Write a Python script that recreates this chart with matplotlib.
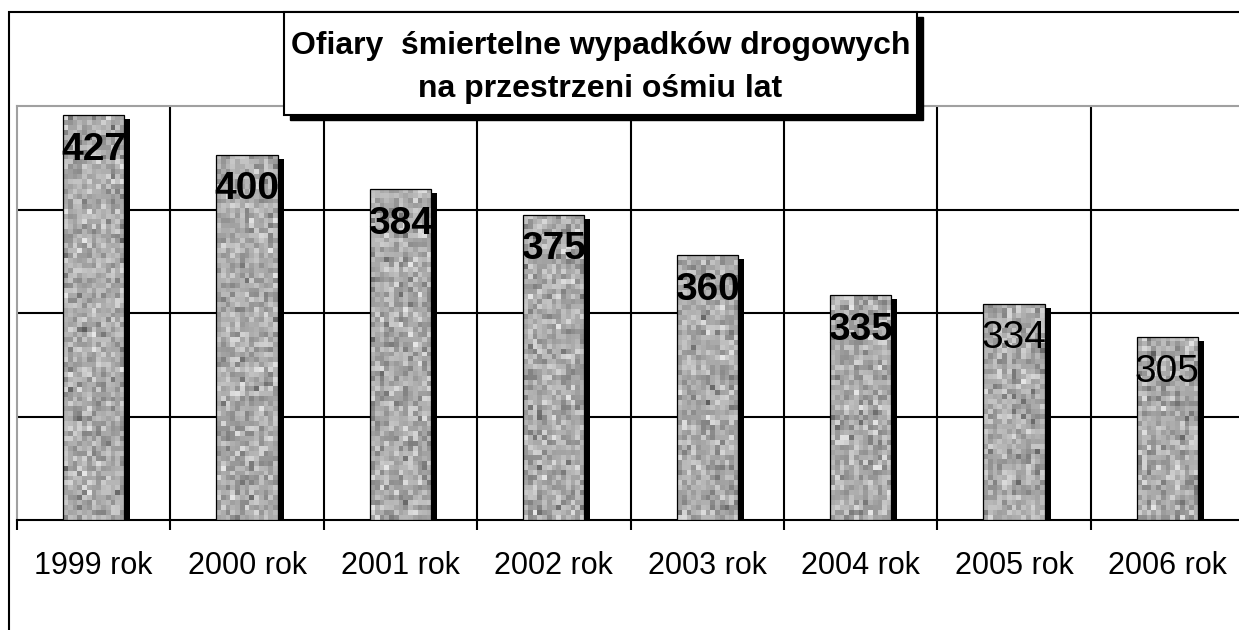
import numpy as np
import matplotlib.pyplot as plt
import matplotlib.transforms as mtransforms
from matplotlib.patches import Rectangle

plt.rcParams['font.family'] = ['Liberation Sans', 'DejaVu Sans']

# dane z wykresu
lata = ['1999 rok', '2000 rok', '2001 rok', '2002 rok', '2003 rok', '2004 rok', '2005 rok', '2006 rok']
ofiary = [427, 400, 384, 375, 360, 335, 334, 305]          # etykiety danych
wysokosc = [3.91, 3.53, 3.20, 2.95, 2.56, 2.17, 2.09, 1.77]  # wysokosc slupkow (w jednostkach siatki)
pogrubione = [True, True, True, True, True, True, False, False]
tytul = ['Ofiary  śmiertelne wypadków drogowych', 'na przestrzeni ośmiu lat']

W, H = 1239, 630
fig = plt.figure(figsize=(W / 100, H / 100), dpi=100)
ax = fig.add_axes([17 / W, 110 / H, 1227 / W, 414 / H])

x = np.arange(len(lata))
rng = np.random.default_rng(3)  # tylko tekstura slupkow

# cien slupkow
cien = ax.transData + mtransforms.ScaledTranslation(6 / 100, -4 / 100, fig.dpi_scale_trans)
ax.bar(x, wysokosc, width=0.4, color='black', transform=cien, zorder=2)

bary = ax.bar(x, wysokosc, width=0.4, facecolor='none', edgecolor='black', linewidth=0.9, zorder=4)
for b, h in zip(bary, wysokosc):
    ny = int(h * 21)
    tex = np.clip(rng.normal(0.67, 0.09, (ny, 13)), 0.35, 0.9)
    im = ax.imshow(tex, cmap='gray', vmin=0, vmax=1, aspect='auto', interpolation='nearest',
                   extent=(b.get_x(), b.get_x() + b.get_width(), 0, h), zorder=3)
    im.set_clip_path(b)

# etykiety danych
for xi, h, v, bold in zip(x, wysokosc, ofiary, pogrubione):
    ax.annotate(str(v), (xi, h), xytext=(0, -25), textcoords='offset points',
                ha='center', va='center', fontsize=28,
                fontweight='bold' if bold else 'normal', zorder=6)

ax.set_xlim(-0.5, len(lata) - 0.5)
ax.set_ylim(0, 4)

# siatka
ax.set_yticks([1, 2, 3])
ax.yaxis.grid(True, color='black', linewidth=1.5)
for g in np.arange(0.5, len(lata) - 0.5):
    ax.axvline(g, color='black', linewidth=1.5, zorder=1)
ax.set_axisbelow(True)
ax.tick_params(axis='y', length=0, labelleft=False)

ax.set_xticks(np.arange(-0.5, len(lata)), labels=[])
ax.set_xticks(x, labels=lata, minor=True)
ax.tick_params(axis='x', which='major', length=7.5, width=1.5, direction='out')
ax.tick_params(axis='x', which='minor', length=0, pad=22, labelsize=22)

for s in ['top', 'left', 'right']:
    ax.spines[s].set_color('#a0a0a0')
    ax.spines[s].set_linewidth(1.5)
ax.spines['bottom'].set_linewidth(1.5)

# ramka wykresu
fig.patches.append(Rectangle((9 / W, -0.1), 1.2, 1.1 - 12 / H, transform=fig.transFigure,
                             fill=False, edgecolor='black', linewidth=1.5, zorder=1))

# ramka tytulu z cieniem
x0, x1, y0, y1 = 284, 917, 12, 115
fig.patches.append(Rectangle(((x0 + 6) / W, 1 - (y1 + 5) / H), (x1 - x0) / W, (y1 - y0) / H,
                             transform=fig.transFigure, facecolor='black', edgecolor='black', zorder=5))
fig.patches.append(Rectangle((x0 / W, 1 - y1 / H), (x1 - x0) / W, (y1 - y0) / H,
                             transform=fig.transFigure, facecolor='white', edgecolor='black',
                             linewidth=1.5, zorder=6))
fig.text((x0 + x1) / 2 / W, 1 - 54 / H, tytul[0], ha='center', va='baseline',
         fontsize=23, fontweight='bold', zorder=7)
fig.text((x0 + x1) / 2 / W, 1 - 97 / H, tytul[1], ha='center', va='baseline',
         fontsize=23, fontweight='bold', zorder=7)

fig.savefig('out.png', dpi=100)
